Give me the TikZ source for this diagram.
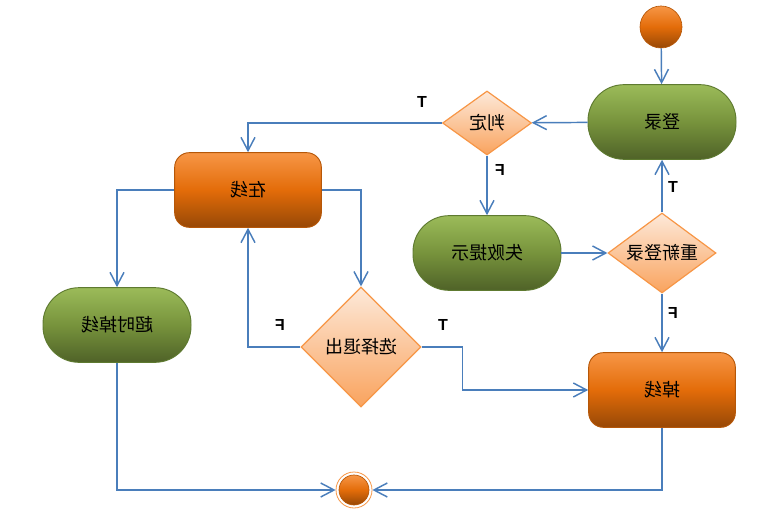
\documentclass[tikz,border=0pt]{standalone}
\usepackage{fontspec}
\usepackage{graphicx}
\setmainfont{Liberation Sans}
\newfontfamily\cjk{Noto Sans CJK SC}
\usetikzlibrary{shapes.geometric,arrows.meta}
\definecolor{lineblue}{HTML}{4A7EBB}
\definecolor{gtop}{HTML}{9BBB59}
\definecolor{gmid}{HTML}{77933C}
\definecolor{gbot}{HTML}{4F6228}
\definecolor{gborder}{HTML}{5E7A30}
\definecolor{otop}{HTML}{F79646}
\definecolor{omid}{HTML}{E36C09}
\definecolor{obot}{HTML}{974806}
\definecolor{oborder}{HTML}{B65708}
\definecolor{dtop}{HTML}{FDE9D9}
\definecolor{dbot}{HTML}{F9A35E}
\definecolor{dborder}{HTML}{F79646}
\newcommand{\mirtxt}[1]{\reflectbox{#1}}
\begin{document}
\begin{tikzpicture}[x=0.75pt,y=-0.75pt,
  cjkfont/.style={font={\cjk\fontsize{13.5}{16}\selectfont}},
  greenbox/.style={rectangle, rounded corners=27pt, minimum width=111pt, minimum height=56pt,
    draw=gborder, line width=0.7pt, top color=gtop, bottom color=gbot, middle color=gmid, cjkfont},
  orangebox/.style={rectangle, rounded corners=11pt, minimum width=110pt, minimum height=56pt,
    draw=oborder, line width=0.7pt, top color=otop, bottom color=obot, middle color=omid, cjkfont},
  decision/.style={diamond, inner sep=0pt, draw=dborder, line width=0.9pt,
    top color=dtop, bottom color=dbot, cjkfont},
  arr/.style={draw=lineblue, line width=1.1pt, -{Straight Barb[length=10pt,width=10.5pt]}},
  tf/.style={font={\bfseries\fontsize{12}{14}\selectfont}, inner sep=0pt}
]
\useasboundingbox (0,0) rectangle (780,516);

\node[circle, minimum size=31.5pt, inner sep=0pt, draw=oborder, line width=0.5pt,
  top color=otop, bottom color=obot, middle color=omid] (start) at (661,27) {};
\node[greenbox] (login) at (662,122) {\mirtxt{登录}};
\node[decision, aspect=1.39, minimum width=66.75pt, minimum height=48pt] (judge) at (487,123) {\mirtxt{判定}};
\node[orangebox] (online) at (248,190) {\mirtxt{在线}};
\node[greenbox] (fail) at (487,253) {\mirtxt{失败提示}};
\node[decision, aspect=1.35, minimum width=81pt, minimum height=60pt] (relogin) at (662,253) {\mirtxt{重新登录}};
\node[greenbox] (timeout) at (117,325) {\mirtxt{超时掉线}};
\node[decision, aspect=1, minimum width=90pt, minimum height=90pt] (quit) at (361,347) {\mirtxt{选择退出}};
\node[orangebox] (drop) at (662,390) {\mirtxt{掉线}};
\node[circle, minimum size=27pt, inner sep=0pt, draw=otop, line width=0.6pt, fill=white] (endout) at (354,490) {};
\node[circle, minimum size=22.5pt, inner sep=0pt, draw=oborder, line width=0.5pt,
  top color=otop, bottom color=obot, middle color=omid] (endin) at (354,490) {};

\draw[arr] (start) -- (login);
\draw[arr] (login) -- (judge);
\draw[arr] (judge.west) -| (online.north);
\draw[arr] (judge) -- (fail);
\draw[arr] (fail) -- (relogin);
\draw[arr] (relogin) -- (login);
\draw[arr] (relogin) -- (drop);
\draw[arr] (online.west) -| (timeout.north);
\draw[arr] (online.east) -| (quit.north);
\draw[arr] (quit.west) -| (online.south);
\draw[arr] (quit.east) -- ++(41,0) |- (drop.west);
\draw[arr] (timeout.south) |- (endout.west);
\draw[arr] (drop.south) |- (endout.east);

\node[tf] (t1) at (422,102) {T};
\node[tf] (f1) at (500,170) {\mirtxt{F}};
\node[tf] (t2) at (673,187) {T};
\node[tf] (f2) at (673,313) {\mirtxt{F}};
\node[tf] (f3) at (280,325) {\mirtxt{F}};
\node[tf] (t3) at (443,325) {T};
\end{tikzpicture}
\end{document}
